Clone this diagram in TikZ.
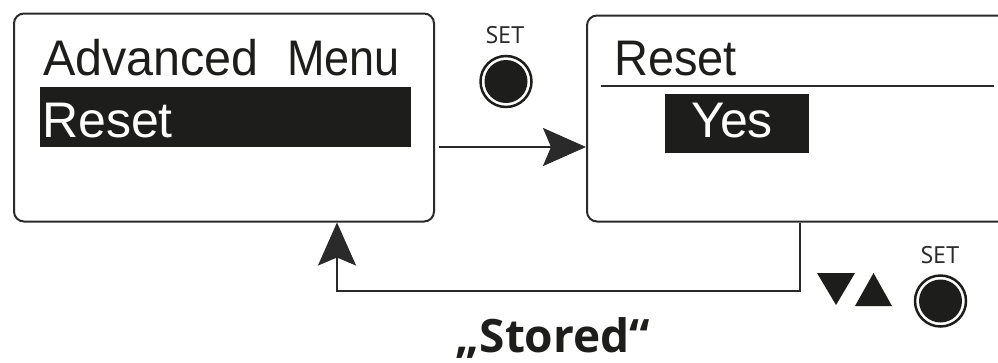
\documentclass[tikz,border=0pt]{standalone}
\usepackage{fontspec}
\setmainfont{Liberation Sans}
\newfontfamily\labfont{PT Sans}
\newfontfamily\storedfont{Open Sans}
\usetikzlibrary{arrows.meta}
\definecolor{ink}{HTML}{1D1D1B}
\definecolor{edge}{HTML}{2A2A2A}
\tikzset{
  x=1pt, y=-1pt,
  lcdbox/.style={draw=edge, line width=2pt, rounded corners=10pt, inner sep=0pt},
  hlbox/.style={fill=ink, inner sep=0pt},
  lcdtext/.style={font=\fontsize{50}{50}\selectfont, inner sep=0pt, anchor=base west, text=ink},
  settext/.style={font=\labfont\fontsize{24}{24}\selectfont, inner sep=0pt, anchor=base, text=edge},
  ring/.style={circle, draw=ink, line width=2.5pt, minimum size=51pt, inner sep=0pt},
  disc/.style={circle, fill=ink, minimum size=43pt, inner sep=0pt},
  conn/.style={draw=edge, line width=2pt},
  bigtip/.style={-{Stealth[length=43pt,width=38pt,inset=8pt]}}
}
\begin{document}
\begin{tikzpicture}
\useasboundingbox (0,0) rectangle (998,362);
% left display
\node[lcdbox, minimum width=420pt, minimum height=208pt] (lbox) at (224,117.5) {};
\node[lcdtext] (adv) at (43,75) {\scalebox{0.97}[1]{Advanced}};
\node[lcdtext] (menu) at (287,75) {\scalebox{0.9}[1]{Menu}};
\node[hlbox, minimum width=371pt, minimum height=60pt] (hl1) at (225.5,117) {};
\node[lcdtext, text=white] (rs1) at (42,137) {Reset};
% right display (continues past the right edge)
\node[lcdbox, minimum width=440pt, minimum height=206pt] (rbox) at (807,118.5) {};
\node[lcdtext] (rs2) at (614,75) {\scalebox{0.94}[1]{Reset}};
\coordinate (s1) at (601,86);
\coordinate (s2) at (994,86);
\draw[conn] (s1) -- (s2);
\node[hlbox, minimum width=144pt, minimum height=59pt] (hl2) at (737,123.5) {};
\node[lcdtext, text=white] (yes) at (691,137) {Yes};
% SET button 1
\node[settext] (set1) at (505,43) {SET};
\node[ring] (b1) at (506,81.5) {};
\node[disc] (d1) at (b1.center) {};
% arrow right
\coordinate (a1) at (439,147);
\draw[conn, bigtip] (a1) -- (rbox.west |- a1);
% return connector
\coordinate (tr) at (800,291);
\coordinate (tl) at (337,291);
\draw[conn, bigtip] (rbox.south -| tr) -- (tr) -- (tl) -- (lbox.south -| tl);
% arrows down/up
\fill[ink] (817,273) -- (855,273) -- (836,305) -- cycle;
\fill[ink] (855,306) -- (892,306) -- (873.5,273) -- cycle;
% SET button 2
\node[settext] (set2) at (940,263) {SET};
\node[ring] (b2) at (940.5,301) {};
\node[disc] (d2) at (b2.center) {};
% label
\node[font=\storedfont\bfseries\fontsize{46}{46}\selectfont, inner sep=0pt, anchor=base, text=ink] (stored) at (553,352) {„Stored“};
\end{tikzpicture}
\end{document}
